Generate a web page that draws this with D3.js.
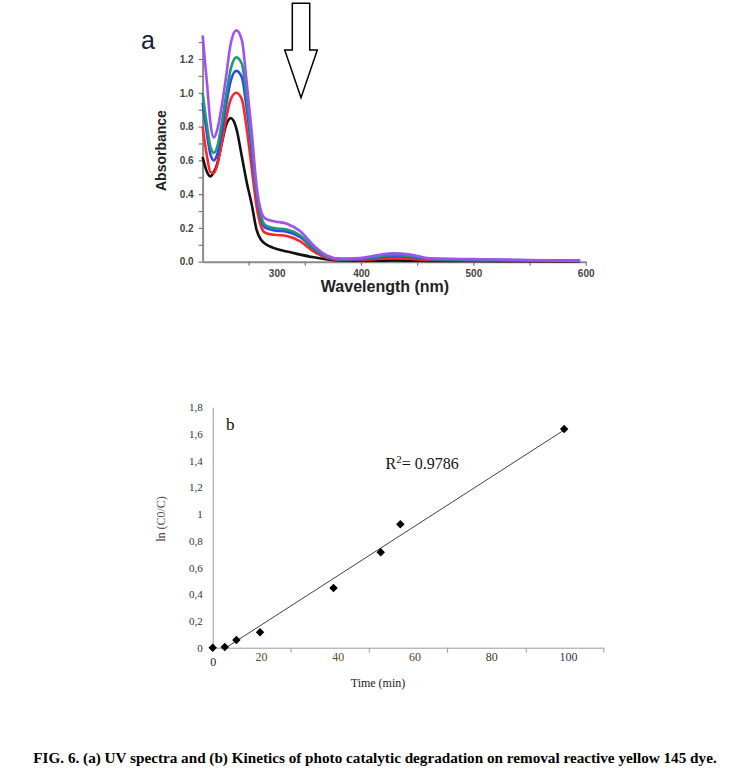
<!DOCTYPE html>
<html>
<head>
<meta charset="utf-8">
<script src="https://cdn.jsdelivr.net/npm/d3@7"></script>
<style>
    body { margin: 0; background: #fff; }
    .sans { font-family: "Liberation Sans", Arial, sans-serif; }
    .serif { font-family: "Liberation Serif", "Times New Roman", serif; }
</style>
</head>
<body>
<div class="figure"></div>
<script>
// ---- (a) UV spectra ----
const wavelength = [259, 263, 266, 269, 272, 276, 280, 284, 289, 294, 298, 303, 307, 311, 315, 322, 334, 346, 358, 370, 381, 399, 414, 429, 444, 461, 500, 548, 595];
const absBlack  = [0.62, 0.53, 0.505, 0.53, 0.58, 0.70, 0.81, 0.85, 0.79, 0.62, 0.48, 0.33, 0.19, 0.13, 0.105, 0.082, 0.06, 0.042, 0.026, 0.014, 0.008, 0.006, 0.006, 0.007, 0.006, 0.005, 0.004, 0.003, 0.002];
const absRed    = [0.80, 0.62, 0.53, 0.525, 0.57, 0.70, 0.85, 0.96, 1.00, 0.96, 0.80, 0.54, 0.33, 0.21, 0.17, 0.16, 0.152, 0.12, 0.06, 0.022, 0.01, 0.01, 0.016, 0.02, 0.017, 0.01, 0.008, 0.006, 0.004];
const absBlue   = [0.94, 0.75, 0.635, 0.60, 0.635, 0.77, 0.93, 1.07, 1.13, 1.09, 0.92, 0.64, 0.40, 0.255, 0.20, 0.187, 0.178, 0.145, 0.075, 0.028, 0.014, 0.015, 0.025, 0.033, 0.028, 0.015, 0.012, 0.008, 0.005];
const absGreen  = [1.00, 0.80, 0.68, 0.645, 0.68, 0.82, 0.99, 1.14, 1.21, 1.17, 0.98, 0.68, 0.42, 0.27, 0.215, 0.20, 0.19, 0.155, 0.08, 0.03, 0.015, 0.018, 0.03, 0.04, 0.034, 0.017, 0.013, 0.009, 0.005];
const absPurple = [1.34, 1.05, 0.82, 0.735, 0.78, 0.92, 1.10, 1.29, 1.37, 1.31, 1.08, 0.75, 0.45, 0.30, 0.255, 0.24, 0.225, 0.18, 0.095, 0.035, 0.018, 0.022, 0.038, 0.05, 0.042, 0.02, 0.015, 0.01, 0.006];
const spectra = [absBlack, absRed, absBlue, absGreen, absPurple];
const spectraColors = ['#111111', '#ff2626', '#2b48f2', '#1d9a72', '#a24ff5'];
const absTicks = [0, 0.1, 0.2, 0.3, 0.4, 0.5, 0.6, 0.7, 0.8, 0.9, 1.0, 1.1, 1.2, 1.3];
const nmTicks = [300, 350, 400, 450, 500, 550, 600];
const nmLabels = [300, 400, 500, 600];

// ---- (b) kinetics ----
const timeMin = [0, 5, 9.8, 19.6, 38.9, 51.2, 56.3, 99];
const lnC0C = [0, 0.005, 0.057, 0.115, 0.447, 0.714, 0.924, 1.638];
const trendTime = [5.5, 99];
const trendLn = [0, 1.63];
const timeLabels = [0, 20, 40, 60, 80, 100];
const timeTickMarks = [27.7, 48.1, 68.5, 89.0, 109.2];
const lnTicks = [0, 0.2, 0.4, 0.6, 0.8, 1, 1.2, 1.4, 1.6, 1.8];

const W = 735, H = 783;
const svg = d3.select('.figure')
    .append('svg')
    .attr('width', W)
    .attr('height', H)
    .style('background', '#fff');

// ================= chart a =================
const xA = d3.scaleLinear().domain([259, 600]).range([202.6, 585.7]);
const yA = d3.scaleLinear().domain([0, 1.34]).range([261.7, 35.4]);

const gA = svg.append('g').attr('class', 'sans');

const yAxisA = gA.append('g')
    .attr('transform', `translate(${xA(259)},0)`)
    .call(d3.axisLeft(yA)
        .tickValues(absTicks)
        .tickSize(4)
        .tickSizeOuter(0)
        .tickPadding(5)
        .tickFormat(d => (Math.round(d * 10) % 2 === 0 ? d3.format('.1f')(d) : '')));

const xAxisA = gA.append('g')
    .attr('transform', `translate(0,${yA(0)})`)
    .call(d3.axisBottom(xA)
        .tickValues(nmTicks)
        .tickSize(4)
        .tickSizeOuter(0)
        .tickPadding(4)
        .tickFormat(d => (nmLabels.includes(d) ? d : '')));

// the "300" label sits between the 300 and 350 ticks in the original
xAxisA.selectAll('.tick text').filter(d => d === 300).attr('dx', 28);

[yAxisA, xAxisA].forEach(ax => {
    ax.select('.domain').attr('stroke', '#8a8a8a').attr('stroke-width', 2);
    ax.selectAll('.tick line').attr('stroke', '#777').attr('stroke-width', 1.2);
    ax.selectAll('.tick text')
        .attr('fill', '#444')
        .attr('font-size', 10)
        .attr('font-weight', 'bold')
        .attr('font-family', '"Liberation Sans", Arial, sans-serif');
});

const lineA = d3.line()
    .x((d, i) => xA(wavelength[i]))
    .y(d => yA(d))
    .curve(d3.curveMonotoneX);

gA.selectAll('.spectrum')
    .data(spectra)
    .enter()
    .append('path')
    .attr('class', 'spectrum')
    .attr('d', lineA)
    .attr('fill', 'none')
    .attr('stroke', (d, i) => spectraColors[i])
    .attr('stroke-width', 2.6)
    .attr('stroke-linejoin', 'round');

gA.append('text')
    .attr('transform', `translate(166,${(yA(0) + yA(1.34)) / 2 + 2}) rotate(-90)`)
    .attr('text-anchor', 'middle')
    .attr('font-size', 14)
    .attr('font-weight', 'bold')
    .attr('fill', '#222')
    .text('Absorbance');

gA.append('text')
    .attr('x', 385)
    .attr('y', 292)
    .attr('text-anchor', 'middle')
    .attr('font-size', 16)
    .attr('font-weight', 'bold')
    .attr('fill', '#222')
    .text('Wavelength (nm)');

gA.append('text')
    .attr('x', 141)
    .attr('y', 49)
    .attr('font-size', 25)
    .attr('fill', '#1c1c3a')
    .text('a');

// hollow down arrow
const arrowNm = 346.6, arrowTop = 1.53, arrowNeck = 1.253, arrowTip = 0.971;
const ax0 = xA(arrowNm);
const arrowPts = [
    [ax0 - 8.7, yA(arrowTop)], [ax0 + 8.7, yA(arrowTop)], [ax0 + 8.7, yA(arrowNeck)],
    [ax0 + 16.3, yA(arrowNeck)], [ax0, yA(arrowTip)], [ax0 - 16.3, yA(arrowNeck)],
    [ax0 - 8.7, yA(arrowNeck)]
];
gA.append('path')
    .attr('d', d3.line()(arrowPts) + 'Z')
    .attr('fill', '#fff')
    .attr('stroke', '#000')
    .attr('stroke-width', 1.5);

// ================= chart b =================
const xB = d3.scaleLinear().domain([0, 20, 109.2]).range([212.7, 261, 603.3]);
const yB = d3.scaleLinear().domain([0, 1.8]).range([647.7, 407.3]);

const gB = svg.append('g').attr('class', 'serif');

const yAxisB = gB.append('g')
    .attr('transform', `translate(${xB(0)},0)`)
    .call(d3.axisLeft(yB)
        .tickValues(lnTicks)
        .tickSize(0)
        .tickPadding(10)
        .tickFormat(d => (Number.isInteger(d) ? String(d) : d.toFixed(1).replace('.', ','))));

const xMarksB = gB.append('g')
    .attr('transform', `translate(0,${yB(0)})`)
    .call(d3.axisBottom(xB)
        .tickValues(timeTickMarks)
        .tickSize(5)
        .tickSizeOuter(0)
        .tickFormat(''));

const xLabelsB = gB.append('g')
    .attr('transform', `translate(0,${yB(0)})`)
    .call(d3.axisBottom(xB)
        .tickValues(timeLabels)
        .tickSize(0)
        .tickPadding(5));
xLabelsB.select('.domain').remove();
xLabelsB.selectAll('.tick text').filter(d => d === 0).attr('dy', '1.15em');

[yAxisB, xMarksB].forEach(ax => {
    ax.select('.domain').attr('stroke', '#9a9a9a').attr('stroke-width', 1);
    ax.selectAll('.tick line').attr('stroke', '#9a9a9a');
});
yAxisB.selectAll('.tick text')
    .attr('fill', '#333')
    .attr('font-size', 11)
    .attr('font-family', '"Liberation Serif", "Times New Roman", serif');
xLabelsB.selectAll('.tick text')
    .attr('fill', (d, i) => ['#222', '#5e4a12', '#6b4a14', '#4a4020', '#3a3a2a', '#352f55'][i])
    .attr('font-size', 12)
    .attr('font-family', '"Liberation Serif", "Times New Roman", serif');

gB.append('path')
    .datum(trendTime)
    .attr('d', d3.line().x(d => xB(d)).y((d, i) => yB(trendLn[i])))
    .attr('fill', 'none')
    .attr('stroke', '#2a2a2a')
    .attr('stroke-width', 0.9);

gB.selectAll('.dot')
    .data(timeMin)
    .enter()
    .append('path')
    .attr('class', 'dot')
    .attr('d', d3.symbol(d3.symbolSquare, 36))
    .attr('transform', (d, i) => `translate(${xB(d)},${yB(lnC0C[i])}) rotate(45)`)
    .attr('fill', '#000');

gB.append('text')
    .attr('x', 226)
    .attr('y', 430)
    .attr('font-size', 17)
    .attr('fill', '#111')
    .text('b');

const r2 = gB.append('text')
    .attr('x', 385.5)
    .attr('y', 469)
    .attr('font-size', 16)
    .attr('fill', '#111');
r2.append('tspan').text('R');
r2.append('tspan').attr('dy', -6).attr('font-size', 11).text('2');
r2.append('tspan').attr('dy', 6).text('= 0.9786');

const yTitle = gB.append('text')
    .attr('transform', 'translate(165,519) rotate(-90)')
    .attr('text-anchor', 'middle')
    .attr('font-size', 12);
yTitle.append('tspan').attr('fill', '#4a1030').text('ln ');
yTitle.append('tspan').attr('fill', '#555').text('(C0/C)');

gB.append('text')
    .attr('x', 378)
    .attr('y', 687)
    .attr('text-anchor', 'middle')
    .attr('font-size', 12)
    .attr('fill', '#222')
    .text('Time (min)');

// ================= caption =================
svg.append('text')
    .attr('class', 'serif')
    .attr('x', 375)
    .attr('y', 763)
    .attr('text-anchor', 'middle')
    .attr('font-size', 15.2)
    .attr('font-weight', 'bold')
    .attr('fill', '#000')
    .text('FIG. 6. (a) UV spectra and (b) Kinetics of photo catalytic degradation on removal reactive yellow 145 dye.');
</script>
</body>
</html>
